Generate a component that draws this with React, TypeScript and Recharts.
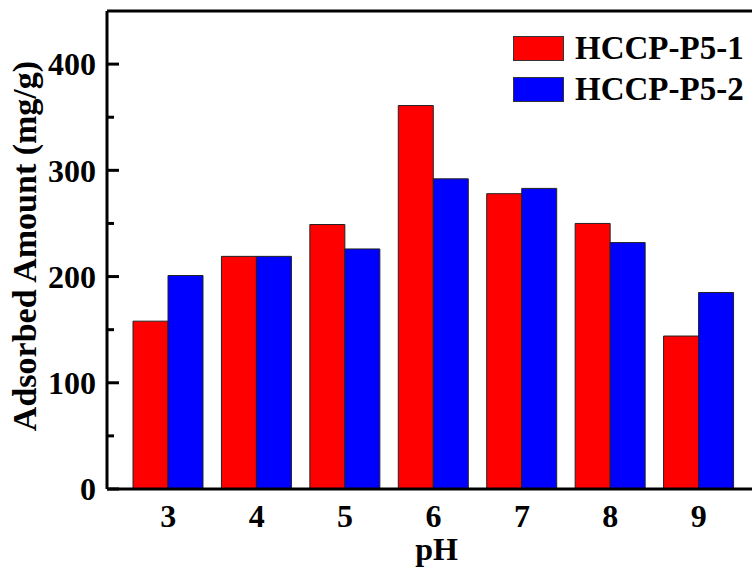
import React from 'react';
import { BarChart, Bar, XAxis, YAxis, ReferenceLine, Legend } from 'recharts';

const phValues = ['3', '4', '5', '6', '7', '8', '9'];
const seriesP51 = [158, 219, 249, 361, 278, 250, 144];
const seriesP52 = [201, 219, 226, 292, 283, 232, 185];
const yTicks = [0, 50, 100, 150, 200, 250, 300, 350, 400];
const seriesNames = ['HCCP-P5-1', 'HCCP-P5-2'];
const seriesColors = ['#ff0000', '#0000ff'];

const data = phValues.map((ph, i) => ({ ph, p1: seriesP51[i], p2: seriesP52[i] }));

const FONT = '"Liberation Serif", "Times New Roman", serif';

const YTick = (props: any) => {
  const { x, y, payload } = props;
  const major = payload.value % 100 === 0;
  return (
    <g>
      <line x1={x} x2={x + (major ? 12 : 7)} y1={y} y2={y} stroke="#000" strokeWidth={3} />
      {major && (
        <text x={x - 11} y={y} dy="0.35em" textAnchor="end" fontFamily={FONT} fontWeight="bold" fontSize={32} fill="#000">
          {payload.value}
        </text>
      )}
    </g>
  );
};

const XTick = (props: any) => {
  const { x, payload } = props;
  return (
    <text x={x} y={527} textAnchor="middle" fontFamily={FONT} fontWeight="bold" fontSize={32} fill="#000">
      {payload.value}
    </text>
  );
};

const YLabel = (props: any) => {
  const vb = props.viewBox || { y: 11, height: 478 };
  const cy = vb.y + vb.height / 2 - 4;
  const cx = 36;
  return (
    <text x={cx} y={cy} transform={`rotate(-90, ${cx}, ${cy})`} textAnchor="middle" fontFamily={FONT} fontWeight="bold" fontSize={34} fill="#000">
      Adsorbed Amount (mg/g)
    </text>
  );
};

const renderLegend = () => (
  <div style={{ fontFamily: FONT, fontWeight: 'bold', fontSize: 33, color: '#000' }}>
    {seriesNames.map((n, i) => (
      <div key={n} style={{ display: 'flex', alignItems: 'center', height: 41 }}>
        <div style={{ width: 49, height: 23, background: seriesColors[i], border: '1px solid #333', marginRight: 11 }} />
        <span style={{ lineHeight: '41px' }}>{n}</span>
      </div>
    ))}
  </div>
);

export default function App() {
  return (
    <div style={{ position: 'absolute', left: 0, top: 0, width: 752, height: 571, overflow: 'hidden', background: '#fff' }}>
      <BarChart
        width={770}
        height={571}
        data={data}
        margin={{ top: 11, right: 10, bottom: 0, left: 47 }}
        barSize={35}
        barGap={0}
      >
        <XAxis
          dataKey="ph"
          padding={{ left: 17, right: 17 }}
          axisLine={{ stroke: '#000', strokeWidth: 3 }}
          tickLine={false}
          tick={<XTick />}
          height={82}
          interval={0}
          label={{ value: 'pH', position: 'insideBottom', offset: 11, fontFamily: FONT, fontWeight: 'bold', fontSize: 32, fill: '#000', dx: 3 }}
        />
        <YAxis
          domain={[0, 450]}
          ticks={yTicks}
          width={60}
          tickSize={0}
          tickMargin={0}
          tickLine={false}
          axisLine={{ stroke: '#000', strokeWidth: 3 }}
          tick={<YTick />}
          interval={0}
          allowDataOverflow
          label={<YLabel />}
        />
        <ReferenceLine y={450} stroke="#000" strokeWidth={3} />
        <Legend layout="vertical" verticalAlign="middle" align="center" wrapperStyle={{ top: 28, left: 513, width: 240, height: 90 }} content={renderLegend} />
        <Bar dataKey="p1" name={seriesNames[0]} fill={seriesColors[0]} stroke="#222" strokeWidth={1} isAnimationActive={false} />
        <Bar dataKey="p2" name={seriesNames[1]} fill={seriesColors[1]} stroke="#222" strokeWidth={1} isAnimationActive={false} />
      </BarChart>
    </div>
  );
}
